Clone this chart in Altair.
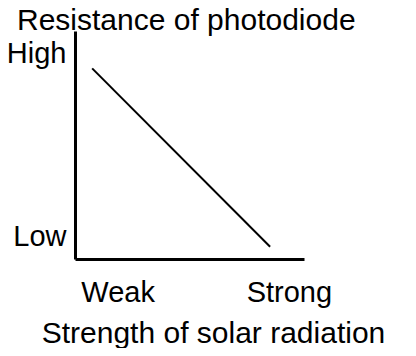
import altair as alt
import pandas as pd

# Data (arbitrary 0-100 scale on both axes)
line_x = [7.5, 85.2]
line_y = [83.6, 5.4]

x_tick_values = [18.6, 93.4]
x_tick_labels = ["Weak", "Strong"]
y_tick_values = [6.1, 86.4]
y_tick_labels = ["Low", "High"]

title_text = "Resistance of photodiode"
x_title = "Strength of solar radiation"

df = pd.DataFrame({"x": line_x, "y": line_y})


def label_expr(values, labels):
    expr = "''"
    for v, lab in zip(values, labels):
        expr = f"abs(datum.value - {v}) < 0.01 ? '{lab}' : ({expr})"
    return expr


FONT = "Liberation Sans"

chart = (
    alt.Chart(df)
    .mark_line(color="black", strokeWidth=2, clip=False)
    .encode(
        x=alt.X(
            "x:Q",
            scale=alt.Scale(domain=[0, 100], nice=False, zero=False),
            axis=alt.Axis(
                values=x_tick_values,
                labelExpr=label_expr(x_tick_values, x_tick_labels),
                ticks=False,
                tickSize=0,
                grid=False,
                domainColor="black",
                domainWidth=3,
                labelFont=FONT,
                labelFontSize=29,
                labelColor="black",
                labelBaseline="alphabetic",
                labelPadding=42,
                labelOverlap=False,
                labelFlush=False,
                labelBound=False,
                title=x_title,
                titleFont=FONT,
                titleFontSize=30,
                titleFontWeight="normal",
                titleColor="black",
                titleAlign="center",
                titleBaseline="alphabetic",
                titleX=138,
                titleY=83,
            ),
        ),
        y=alt.Y(
            "y:Q",
            scale=alt.Scale(domain=[0, 100], nice=False, zero=False),
            title=None,
            axis=alt.Axis(
                values=y_tick_values,
                labelExpr=label_expr(y_tick_values, y_tick_labels),
                ticks=False,
                tickSize=0,
                grid=False,
                domainColor="black",
                domainWidth=3,
                labelFont=FONT,
                labelFontSize=29,
                labelColor="black",
                labelBaseline="alphabetic",
                labelAlign="right",
                labelPadding=9,
                labelOverlap=False,
                labelFlush=False,
                labelBound=False,
            ),
        ),
    )
    .properties(
        width=229,
        height=228,
        title=alt.TitleParams(
            title_text,
            anchor="start",
            frame="group",
            dx=-58,
            dy=35,
            offset=6,
            baseline="alphabetic",
            font=FONT,
            fontSize=30,
            fontWeight="normal",
            color="black",
        ),
        autosize=alt.AutoSizeParams(type="none"),
        padding={"left": 67, "top": 23, "right": 104, "bottom": 89},
        background="white",
    )
    .configure_view(stroke=None)
)

chart.save("out.html", embed_options={"renderer": "svg", "actions": False})
